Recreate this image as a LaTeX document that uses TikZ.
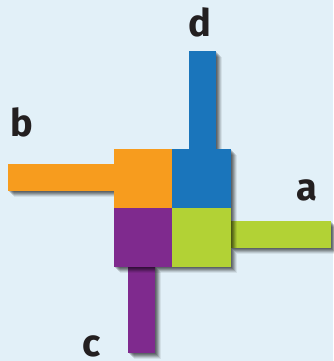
\documentclass[tikz,border=0pt]{standalone}
\usepackage{fontspec}
\setmainfont{Fira Sans}
\usetikzlibrary{shadows}
\definecolor{bg}{HTML}{E2F0F8}
\definecolor{corange}{HTML}{F79C1E}
\definecolor{cblue}{HTML}{1A75BB}
\definecolor{cpurple}{HTML}{7F2A8E}
\definecolor{cgreen}{HTML}{B2D235}
\definecolor{ink}{HTML}{231F20}
\begin{document}
\begin{tikzpicture}[x=1pt,y=-1pt,
  soft/.style={general shadow={fill=black,opacity=0.16,shadow xshift=1pt,shadow yshift=-1pt},
               general shadow={fill=black,opacity=0.16,shadow xshift=2pt,shadow yshift=-2pt},
               general shadow={fill=black,opacity=0.16,shadow xshift=3pt,shadow yshift=-3pt},
               general shadow={fill=black,opacity=0.14,shadow xshift=4pt,shadow yshift=-4pt},
               general shadow={fill=black,opacity=0.10,shadow xshift=5pt,shadow yshift=-5pt},
               general shadow={fill=black,opacity=0.07,shadow xshift=6pt,shadow yshift=-6pt}},
  tile/.style={soft,draw=none,inner sep=0pt,outer sep=0pt,anchor=north west},
  lbl/.style={text=ink,font=\fontsize{38}{42}\selectfont\bfseries,inner sep=0pt,text depth=0pt}]
\fill[bg] (0,0) rectangle (333,361);
\useasboundingbox (0,0) rectangle (333,361);
% bars
\node[tile,fill=cblue,minimum width=27pt,minimum height=99pt] (bd) at (189,51) {};
\node[tile,fill=corange,minimum width=107pt,minimum height=27pt] (bb) at (8,164) {};
\node[tile,fill=cgreen,minimum width=100pt,minimum height=27pt] (ba) at (231,221) {};
\node[tile,fill=cpurple,minimum width=27pt,minimum height=87pt] (bc) at (128,266) {};
% squares
\node[tile,fill=corange,minimum width=58pt,minimum height=59pt] (so) at (114,149) {};
\node[tile,fill=cblue,minimum width=59pt,minimum height=59pt] (sb) at (172,149) {};
\node[tile,fill=cpurple,minimum width=58pt,minimum height=59pt] (sp) at (114,208) {};
\node[tile,fill=cgreen,minimum width=59pt,minimum height=59pt] (sg) at (172,208) {};
% labels
\node[lbl,anchor=base] (ld) at (200,37) {d};
\node[lbl,anchor=base] (lb) at (22,136) {b};
\node[lbl,anchor=base] (la) at (307,200) {a};
\node[lbl,anchor=base] (lc) at (92,356) {c};
\end{tikzpicture}
\end{document}
